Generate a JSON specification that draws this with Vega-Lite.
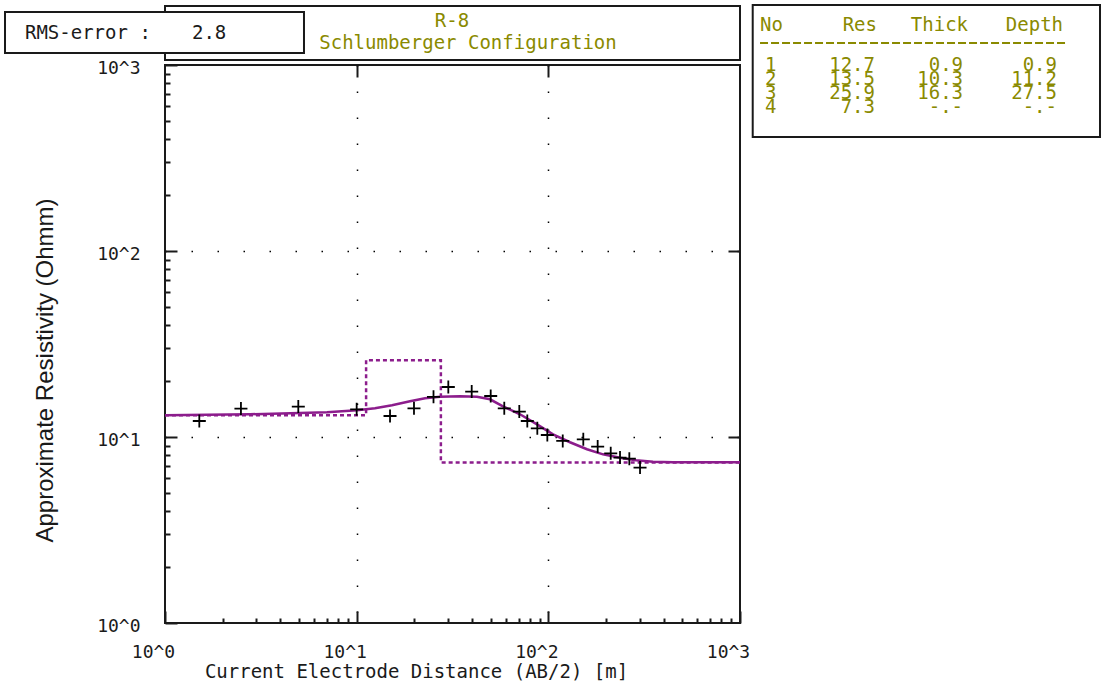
{
  "$schema": "https://vega.github.io/schema/vega-lite/v6.json",
  "width": 575,
  "height": 558,
  "autosize": {"type": "none"},
  "padding": {"left": 165, "top": 65, "right": 362, "bottom": 64},
  "background": "white",
  "config": {
    "view": {"stroke": "#1a1a1a", "strokeWidth": 2},
    "text": {"font": "DejaVu Sans Mono", "fontSize": 19}
  },
  "datasets": {
    "measured": [
      {"ab2": 1.51, "rho": 12.19},
      {"ab2": 2.49, "rho": 14.21},
      {"ab2": 4.96, "rho": 14.57},
      {"ab2": 10.0, "rho": 14.09},
      {"ab2": 14.93, "rho": 12.97},
      {"ab2": 19.91, "rho": 14.27},
      {"ab2": 25.17, "rho": 16.45},
      {"ab2": 30.07, "rho": 18.57},
      {"ab2": 39.83, "rho": 17.54},
      {"ab2": 50.04, "rho": 16.61},
      {"ab2": 58.9, "rho": 14.27},
      {"ab2": 70.55, "rho": 13.7},
      {"ab2": 77.67, "rho": 12.19},
      {"ab2": 87.6, "rho": 11.14},
      {"ab2": 98.8, "rho": 10.25},
      {"ab2": 118.9, "rho": 9.52},
      {"ab2": 152.2, "rho": 9.72},
      {"ab2": 180.9, "rho": 8.88},
      {"ab2": 211.6, "rho": 8.17},
      {"ab2": 236.6, "rho": 7.75},
      {"ab2": 264.6, "rho": 7.65},
      {"ab2": 300.9, "rho": 6.85}
    ],
    "calculated": [
      {"ab2": 1, "rho": 13.08},
      {"ab2": 2.777, "rho": 13.25},
      {"ab2": 7.0, "rho": 13.58},
      {"ab2": 10.04, "rho": 13.92},
      {"ab2": 12.46, "rho": 14.27},
      {"ab2": 15.29, "rho": 14.81},
      {"ab2": 18.98, "rho": 15.56},
      {"ab2": 22.73, "rho": 16.15},
      {"ab2": 27.21, "rho": 16.45},
      {"ab2": 34.6, "rho": 16.55},
      {"ab2": 42.44, "rho": 16.45},
      {"ab2": 49.62, "rho": 15.95},
      {"ab2": 58.0, "rho": 14.63},
      {"ab2": 71.14, "rho": 13.25},
      {"ab2": 87.28, "rho": 11.7},
      {"ab2": 105.8, "rho": 10.34},
      {"ab2": 129.7, "rho": 9.37},
      {"ab2": 159.1, "rho": 8.59},
      {"ab2": 192.9, "rho": 8.07},
      {"ab2": 236.6, "rho": 7.73},
      {"ab2": 286.7, "rho": 7.49},
      {"ab2": 351.7, "rho": 7.36},
      {"ab2": 447.1, "rho": 7.31},
      {"ab2": 1000, "rho": 7.31}
    ],
    "model": [
      {"depth": 1, "res": 13.1},
      {"depth": 11.2, "res": 25.9},
      {"depth": 27.5, "res": 7.3},
      {"depth": 1000, "res": 7.3}
    ],
    "layers": [
      {"No": "1", "Res": "12.7", "Thick": "0.9", "Depth": "0.9"},
      {"No": "2", "Res": "13.5", "Thick": "10.3", "Depth": "11.2"},
      {"No": "3", "Res": "25.9", "Thick": "16.3", "Depth": "27.5"},
      {"No": "4", "Res": "7.3", "Thick": "-.-", "Depth": "-.-"}
    ],
    "one": [{}]
  },
  "layer": [
    {
      "layer": [
        {
          "data": {"name": "model"},
          "mark": {"type": "line", "interpolate": "step-after", "color": "#8c1d8c", "strokeWidth": 2.5, "strokeDash": [4, 3]},
          "encoding": {
            "x": {"field": "depth", "type": "quantitative", "scale": {"type": "log", "domain": [1, 1000], "nice": false},
              "axis": {"orient": "top", "values": [10, 100], "tickSize": -12, "tickWidth": 2, "tickColor": "#1a1a1a", "labels": false, "grid": false, "domain": false, "title": null}},
            "y": {"field": "res", "type": "quantitative", "scale": {"type": "log", "domain": [1, 1000], "nice": false},
              "axis": {"orient": "right", "values": [10, 100], "tickSize": -12, "tickWidth": 2, "tickColor": "#1a1a1a", "labels": false, "grid": false, "domain": false, "title": null}}
          }
        },
        {
          "data": {"name": "calculated"},
          "mark": {"type": "line", "color": "#8c1d8c", "strokeWidth": 2.5},
          "encoding": {
            "x": {"field": "ab2", "type": "quantitative", "scale": {"type": "log", "domain": [1, 1000], "nice": false},
              "axis": {
                "orient": "bottom",
                "values": [1,2,3,4,5,6,7,8,9,10,20,30,40,50,60,70,80,90,100,200,300,400,500,600,700,800,900,1000],
                "labelExpr": "datum.value == 1 ? '10^0' : datum.value == 10 ? '10^1' : datum.value == 100 ? '10^2' : datum.value == 1000 ? '10^3' : ''",
                "tickSize": {"condition": {"test": "datum.value == 1 || datum.value == 10 || datum.value == 100 || datum.value == 1000", "value": -12}, "value": -5},
                "tickWidth": 2, "tickColor": "#1a1a1a",
                "grid": true, "gridColor": "#000", "gridWidth": 1.5, "gridDash": [1.5, 24.5],
                "gridOpacity": {"condition": {"test": "datum.value == 10 || datum.value == 100", "value": 1}, "value": 0},
                "domain": false,
                "labelFont": "DejaVu Sans Mono", "labelFontSize": 18, "labelColor": "#1a1a1a",
                "labelOffset": -12, "labelPadding": 41, "labelBaseline": "middle", "labelOverlap": false, "labelFlush": false, "labelBound": false,
                "title": "Current Electrode Distance (AB/2) [m]",
                "titleFont": "DejaVu Sans Mono", "titleFontSize": 19, "titleFontWeight": "normal", "titleColor": "#1a1a1a",
                "titleX": 251, "titleY": 48, "titleAlign": "center", "titleBaseline": "middle"
              }},
            "y": {"field": "rho", "type": "quantitative", "scale": {"type": "log", "domain": [1, 1000], "nice": false},
              "axis": {
                "orient": "left",
                "values": [1,2,3,4,5,6,7,8,9,10,20,30,40,50,60,70,80,90,100,200,300,400,500,600,700,800,900,1000],
                "labelExpr": "datum.value == 1 ? '10^0' : datum.value == 10 ? '10^1' : datum.value == 100 ? '10^2' : datum.value == 1000 ? '10^3' : ''",
                "tickSize": {"condition": {"test": "datum.value == 1 || datum.value == 10 || datum.value == 100 || datum.value == 1000", "value": -12}, "value": -5},
                "tickWidth": 2, "tickColor": "#1a1a1a",
                "grid": true, "gridColor": "#000", "gridWidth": 1.5, "gridDash": [1.5, 24.5],
                "gridOpacity": {"condition": {"test": "datum.value == 10 || datum.value == 100", "value": 1}, "value": 0},
                "domain": false,
                "labelFont": "DejaVu Sans Mono", "labelFontSize": 18, "labelColor": "#1a1a1a",
                "labelOffset": 3, "labelPadding": 37, "labelBaseline": "middle", "labelOverlap": false, "labelFlush": false, "labelBound": false,
                "title": "Approximate Resistivity (Ohmm)",
                "titleFont": "Liberation Sans", "titleFontSize": 24, "titleFontWeight": "normal", "titleColor": "#1a1a1a",
                "titleAngle": 270, "titleX": -120, "titleY": 305, "titleAlign": "center", "titleBaseline": "middle"
              }}
          }
        },
        {
          "data": {"name": "measured"},
          "mark": {"type": "point", "shape": "M-1,0L1,0M0,-1L0,1", "size": 169, "filled": false, "stroke": "#000", "strokeWidth": 1.8, "opacity": 1},
          "encoding": {
            "x": {"field": "ab2", "type": "quantitative", "scale": {"type": "log", "domain": [1, 1000], "nice": false}, "axis": null},
            "y": {"field": "rho", "type": "quantitative", "scale": {"type": "log", "domain": [1, 1000], "nice": false}, "axis": null}
          }
        },
        {
          "data": {"name": "one"},
          "mark": {"type": "rect", "fill": "white", "stroke": "#1a1a1a", "strokeWidth": 2, "clip": false},
          "encoding": {
            "x": {"datum": 1, "scale": {"type": "log", "domain": [1, 1000], "nice": false}, "axis": null},
            "x2": {"datum": 1000},
            "y": {"datum": 2076, "scale": {"type": "log", "domain": [1, 1000], "nice": false}, "axis": null},
            "y2": {"datum": 1064}
          }
        },
        {
          "data": {"name": "one"},
          "mark": {"type": "rect", "fill": "white", "stroke": "#1a1a1a", "strokeWidth": 2, "clip": false},
          "encoding": {
            "x": {"datum": 0.1463, "scale": {"type": "log", "domain": [1, 1000], "nice": false}, "axis": null},
            "x2": {"datum": 5.311},
            "y": {"datum": 1928, "scale": {"type": "log", "domain": [1, 1000], "nice": false}, "axis": null},
            "y2": {"datum": 1160}
          }
        },
        {
          "data": {"name": "one"},
          "mark": {"type": "rect", "fill": "white", "stroke": "#1a1a1a", "strokeWidth": 2, "clip": false},
          "encoding": {
            "x": {"datum": 1165, "scale": {"type": "log", "domain": [1, 1000], "nice": false}, "axis": null},
            "x2": {"datum": 75560},
            "y": {"datum": 2102, "scale": {"type": "log", "domain": [1, 1000], "nice": false}, "axis": null},
            "y2": {"datum": 410}
          }
        },
        {
          "data": {"name": "one"},
          "mark": {"type": "text", "align": "center", "baseline": "middle", "color": "#8a8a00", "clip": false},
          "encoding": {
            "x": {"datum": 31.44, "scale": {"type": "log", "domain": [1, 1000], "nice": false}, "axis": null},
            "y": {"datum": 1724, "scale": {"type": "log", "domain": [1, 1000], "nice": false}, "axis": null},
            "text": {"value": "R-8"}
          }
        },
        {
          "data": {"name": "one"},
          "mark": {"type": "text", "align": "center", "baseline": "middle", "color": "#8a8a00", "clip": false},
          "encoding": {
            "x": {"datum": 38.09, "scale": {"type": "log", "domain": [1, 1000], "nice": false}, "axis": null},
            "y": {"datum": 1313, "scale": {"type": "log", "domain": [1, 1000], "nice": false}, "axis": null},
            "text": {"value": "Schlumberger Configuration"}
          }
        },
        {
          "data": {"name": "one"},
          "mark": {"type": "text", "align": "left", "baseline": "middle", "color": "#1a1a1a", "clip": false},
          "encoding": {
            "x": {"datum": 0.186, "scale": {"type": "log", "domain": [1, 1000], "nice": false}, "axis": null},
            "y": {"datum": 1486, "scale": {"type": "log", "domain": [1, 1000], "nice": false}, "axis": null},
            "text": {"value": "RMS-error :"}
          }
        },
        {
          "data": {"name": "one"},
          "mark": {"type": "text", "align": "left", "baseline": "middle", "color": "#1a1a1a", "clip": false},
          "encoding": {
            "x": {"datum": 1.383, "scale": {"type": "log", "domain": [1, 1000], "nice": false}, "axis": null},
            "y": {"datum": 1486, "scale": {"type": "log", "domain": [1, 1000], "nice": false}, "axis": null},
            "text": {"value": "2.8"}
          }
        },
        {
          "data": {"name": "one"},
          "mark": {"type": "text", "align": "left", "baseline": "middle", "color": "#8a8a00", "clip": false},
          "encoding": {
            "x": {"datum": 1272, "scale": {"type": "log", "domain": [1, 1000], "nice": false}, "axis": null},
            "y": {"datum": 1641, "scale": {"type": "log", "domain": [1, 1000], "nice": false}, "axis": null},
            "text": {"value": "No"}
          }
        },
        {
          "data": {"name": "one"},
          "mark": {"type": "text", "align": "right", "baseline": "middle", "color": "#8a8a00", "clip": false},
          "encoding": {
            "x": {"datum": 5185, "scale": {"type": "log", "domain": [1, 1000], "nice": false}, "axis": null},
            "y": {"datum": 1641, "scale": {"type": "log", "domain": [1, 1000], "nice": false}, "axis": null},
            "text": {"value": "Res"}
          }
        },
        {
          "data": {"name": "one"},
          "mark": {"type": "text", "align": "right", "baseline": "middle", "color": "#8a8a00", "clip": false},
          "encoding": {
            "x": {"datum": 15475, "scale": {"type": "log", "domain": [1, 1000], "nice": false}, "axis": null},
            "y": {"datum": 1641, "scale": {"type": "log", "domain": [1, 1000], "nice": false}, "axis": null},
            "text": {"value": "Thick"}
          }
        },
        {
          "data": {"name": "one"},
          "mark": {"type": "text", "align": "right", "baseline": "middle", "color": "#8a8a00", "clip": false},
          "encoding": {
            "x": {"datum": 48450, "scale": {"type": "log", "domain": [1, 1000], "nice": false}, "axis": null},
            "y": {"datum": 1641, "scale": {"type": "log", "domain": [1, 1000], "nice": false}, "axis": null},
            "text": {"value": "Depth"}
          }
        },
        {
          "data": {"name": "one"},
          "mark": {"type": "rule", "color": "#8a8a00", "strokeWidth": 2, "strokeDash": [8, 3], "clip": false},
          "encoding": {
            "x": {"datum": 1272, "scale": {"type": "log", "domain": [1, 1000], "nice": false}, "axis": null},
            "x2": {"datum": 50820},
            "y": {"datum": 1313, "scale": {"type": "log", "domain": [1, 1000], "nice": false}, "axis": null}
          }
        }
      ],
      "resolve": {"axis": {"x": "independent", "y": "independent"}}
    },
    {
      "data": {"name": "layers"},
      "encoding": {
        "y": {"field": "No", "type": "ordinal", "scale": {"type": "point", "domain": ["1", "2", "3", "4"], "range": [0, 42], "padding": 0}, "axis": null}
      },
      "layer": [
        {
          "mark": {"type": "text", "align": "center", "baseline": "middle", "color": "#8a8a00", "clip": false},
          "encoding": {
            "x": {"datum": 1446, "scale": {"type": "log", "domain": [1, 1000], "nice": false}, "axis": null},
            "text": {"field": "No"}
          }
        },
        {
          "mark": {"type": "text", "align": "right", "baseline": "middle", "color": "#8a8a00", "clip": false},
          "encoding": {
            "x": {"datum": 5062, "scale": {"type": "log", "domain": [1, 1000], "nice": false}, "axis": null},
            "text": {"field": "Res"}
          }
        },
        {
          "mark": {"type": "text", "align": "right", "baseline": "middle", "color": "#8a8a00", "clip": false},
          "encoding": {
            "x": {"datum": 14574, "scale": {"type": "log", "domain": [1, 1000], "nice": false}, "axis": null},
            "text": {"field": "Thick"}
          }
        },
        {
          "mark": {"type": "text", "align": "right", "baseline": "middle", "color": "#8a8a00", "clip": false},
          "encoding": {
            "x": {"datum": 45070, "scale": {"type": "log", "domain": [1, 1000], "nice": false}, "axis": null},
            "text": {"field": "Depth"}
          }
        }
      ]
    }
  ],
  "resolve": {"scale": {"y": "independent"}, "axis": {"x": "independent", "y": "independent"}}
}
